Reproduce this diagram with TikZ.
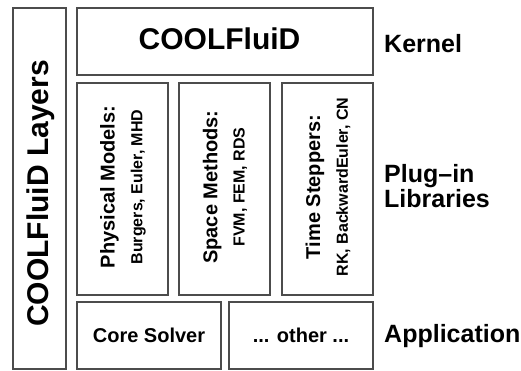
\documentclass[tikz,border=0pt]{standalone}
\usepackage{fontspec}
\setmainfont{Liberation Sans}
\begin{document}
\begin{tikzpicture}[x=1pt,y=1pt,
  box/.style={draw=black!70, line width=1.4pt, rectangle, inner sep=0pt},
  big/.style={font=\bfseries\fontsize{30}{32}\selectfont},
  lbl/.style={anchor=west, inner sep=0pt, align=left, font=\bfseries\fontsize{25}{21.5}\selectfont},
  vert/.style={rotate=90, align=center, inner sep=0pt}
]
\useasboundingbox (0,0) rectangle (521,370);
\node[box, minimum width=53, minimum height=361] (layers) at (39.5,181.5) {};
\node[big, rotate=90, inner sep=0pt] (layerst) at (40.5,176.5) {COOLFluiD Layers};
\node[box, minimum width=296, minimum height=67] (kernel) at (225,328.5) {};
\node[big, inner sep=0pt] (kernelt) at (219.5,331) {COOLFluiD};
\node[box, minimum width=91, minimum height=212] (phys) at (122.5,181) {};
\node[vert] (physt) at (123,183) {\bfseries\fontsize{20}{22}\selectfont Physical Models:\\[11pt]\bfseries\fontsize{16}{18}\selectfont Burgers, Euler, MHD};
\node[box, minimum width=91, minimum height=212] (space) at (224.5,181) {};
\node[vert] (spacet) at (225,183) {\bfseries\fontsize{20}{22}\selectfont Space Methods:\\[11pt]\bfseries\fontsize{16}{18}\selectfont FVM, FEM, RDS};
\node[box, minimum width=91, minimum height=212] (time) at (327.5,181) {};
\node[vert] (timet) at (328,183) {\bfseries\fontsize{20}{22}\selectfont Time Steppers:\\[11pt]\bfseries\fontsize{16}{18}\selectfont RK, BackwardEuler, CN};
\node[box, minimum width=144, minimum height=67, font=\bfseries\fontsize{20}{22}\selectfont] (core) at (149,34.5) {Core Solver};
\node[box, minimum width=144, minimum height=67, font=\bfseries\fontsize{20}{22}\selectfont] (other) at (301,34.5) {... other ...};
\node[lbl] (klbl) at (384,326) {Kernel};
\node[lbl] (plbl) at (384,184) {Plug--in\\Libraries};
\node[lbl] (albl) at (384,34) {Application};
\end{tikzpicture}
\end{document}
